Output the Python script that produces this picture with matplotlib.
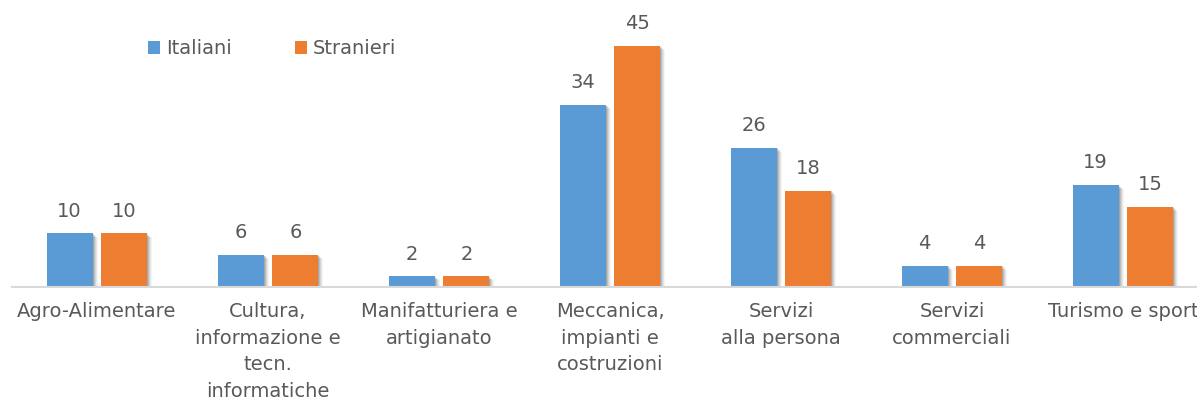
import matplotlib
matplotlib.use("Agg")
import matplotlib.pyplot as plt
import numpy as np

categories = ["Agro-Alimentare", "Cultura,\ninformazione e\ntecn.\ninformatiche",
              "Manifatturiera e\nartigianato", "Meccanica,\nimpianti e\ncostruzioni",
              "Servizi\nalla persona", "Servizi\ncommerciali", "Turismo e sport"]
italiani = [10, 6, 2, 34, 26, 4, 19]
stranieri = [10, 6, 2, 45, 18, 4, 15]
series_names = ["Italiani", "Stranieri"]
colors = ["#5B9BD5", "#ED7D31"]

plt.rcParams['font.family'] = ['DejaVu Sans']
text_color = "#595959"

W, H = 1197, 400
fig = plt.figure(figsize=(W/100, H/100), dpi=100)
left_px, right_px = 11.5, 1208.5
bottom_px, top_px = 287, 19
ax = fig.add_axes([left_px/W, 1 - bottom_px/H, (right_px-left_px)/W, (bottom_px-top_px)/H])

x = np.arange(len(categories))
bw = 0.27
off = 0.16
px = 1/171.0

# soft shadows
for i, vals in enumerate([italiani, stranieri]):
    xs = x + (off if i else -off)
    for k, a in zip([1, 2, 3, 4, 5], [0.13, 0.10, 0.08, 0.06, 0.04]):
        ax.bar(xs + k*px*1.0, vals, bw, bottom=-k*0.15, color="#000000", alpha=a,
               linewidth=0, zorder=1)

b1 = ax.bar(x - off, italiani, bw, color=colors[0], label=series_names[0], zorder=3)
b2 = ax.bar(x + off, stranieri, bw, color=colors[1], label=series_names[1], zorder=3)

for bars, vals in [(b1, italiani), (b2, stranieri)]:
    for r, v in zip(bars, vals):
        ax.annotate(str(v), (r.get_x() + r.get_width()/2, v), xytext=(0, 12),
                    textcoords="offset points", ha="center", va="baseline",
                    fontsize=14, color=text_color, zorder=5)

ax.set_xlim(-0.5, len(categories) - 0.5)
ax.set_ylim(0, 50)
ax.set_xticks(x)
ax.set_xticklabels(categories, fontsize=14, color=text_color, linespacing=1.5)
ax.tick_params(axis='x', length=0, pad=11)
ax.set_yticks([])
for s in ["top", "right", "left"]:
    ax.spines[s].set_visible(False)
ax.spines["bottom"].set_color("#D9D9D9")
ax.spines["bottom"].set_linewidth(1.5)
ax.spines["bottom"].set_zorder(4)

leg = fig.legend(handles=[b1, b2], labels=series_names, loc="center left",
                 bbox_to_anchor=(148/W, 1 - 49/H), ncol=2, frameon=False,
                 fontsize=14, handlelength=0.62, handleheight=0.62, handletextpad=0.3,
                 columnspacing=3.25, borderaxespad=0, borderpad=0)
for t in leg.get_texts():
    t.set_color(text_color)

fig.savefig("out.png", dpi=100)
